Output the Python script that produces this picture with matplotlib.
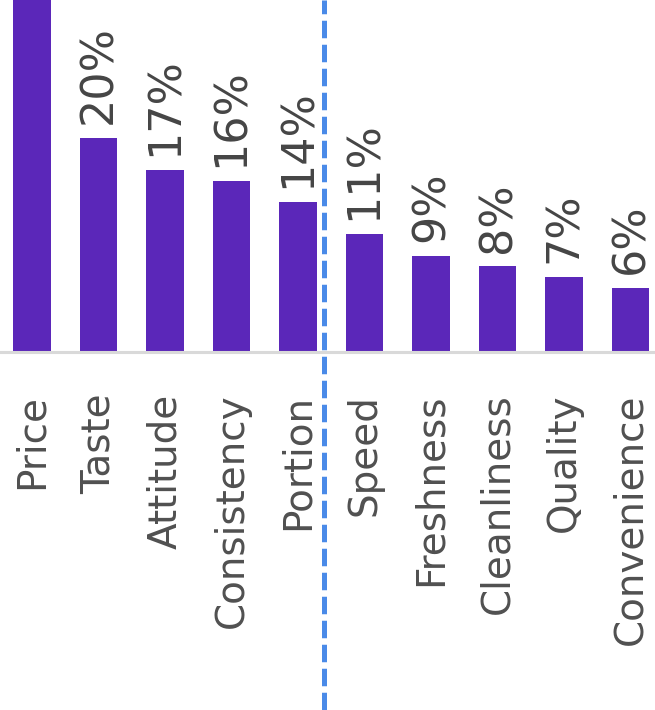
import matplotlib.pyplot as plt
import numpy as np

plt.rcParams['font.family'] = ['DejaVu Sans']

categories = ['Price', 'Taste', 'Attitude', 'Consistency', 'Portion',
              'Speed', 'Freshness', 'Cleanliness', 'Quality', 'Convenience']
values = [36, 20, 17, 16, 14, 11, 9, 8, 7, 6]
split_after = 'Portion'

bar_color = '#5b27b9'
text_color = '#454545'

fig = plt.figure(figsize=(6.55, 7.10), dpi=100)
# axes fill the width; the baseline sits about half way down
ax = fig.add_axes([0, 358 / 710, 1, 352 / 710])

x = np.arange(len(categories))
ax.bar(x, values, width=0.57, color=bar_color, zorder=2)

ax.set_xlim(-32 / 66.5, (655 - 32) / 66.5)
ax.set_ylim(0, 352 / 10.7)

# value labels, skipped for bars running past the top of the axes
ymax = ax.get_ylim()[1]
for xi, v in zip(x, values):
    if v > ymax * 0.8:
        continue
    ax.annotate(f'{v}%', (xi, v), xytext=(0, 10), textcoords='offset points',
                rotation=90, ha='center', va='bottom',
                fontsize=32, color=text_color, annotation_clip=False)

ax.set_xticks(x)
ax.set_xticklabels(categories, rotation=90, fontsize=28, color='#505050')
ax.tick_params(axis='x', length=0, pad=30)
ax.set_yticks([])

for s in ['top', 'left', 'right']:
    ax.spines[s].set_visible(False)
ax.spines['bottom'].set_color('#d9d9d9')
ax.spines['bottom'].set_linewidth(2.2)

# dashed divider between the two groups, running the full height
split = categories.index(split_after) + 0.39
xf = (split - ax.get_xlim()[0]) / (ax.get_xlim()[1] - ax.get_xlim()[0])
fig.add_artist(plt.Line2D([xf, xf], [1, 0], transform=fig.transFigure,
                          color='#4a8ae8', linewidth=3.6,
                          linestyle=(0.75, (3.5, 1.3)), zorder=5))

fig.savefig('out.png', dpi=100)
